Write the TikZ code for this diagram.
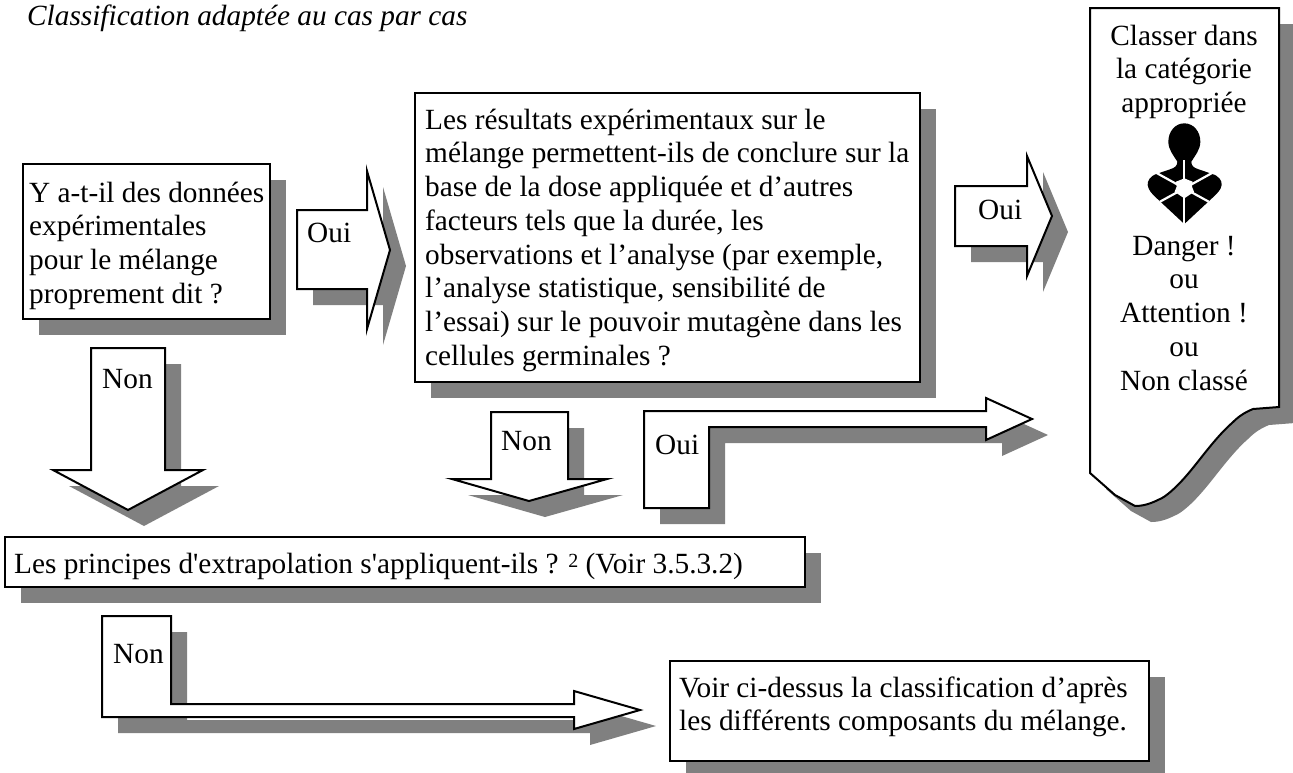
\documentclass[tikz,border=0pt]{standalone}
\usepackage{fontspec}
\usetikzlibrary{shadows}
\newfontfamily\frfont{Liberation Serif}
\definecolor{shadowc}{HTML}{808080}
\newcommand{\blockshape}[1]{%
  \fill[shadowc,shift={(16,16)}] #1;
  \filldraw[outl] #1;}
\newcommand{\topline}{\rule{0pt}{22pt}}
\tikzset{
  outl/.style={draw=black,fill=white,line width=2pt,miter limit=10},
  lbl/.style={anchor=base west,inner sep=0pt,font=\frfont\fontsize{29.3}{33.7}\selectfont},
  boxed/.style={draw=black,fill=white,line width=2pt,anchor=north west,inner sep=0pt,outer sep=0pt,
    general shadow={fill=shadowc,shadow xshift=16pt,shadow yshift=-16pt}},
  txt/.style={anchor=north west,inner sep=0pt,align=left,font=\frfont\fontsize{29.3}{33.7}\selectfont},
  ctxt/.style={txt,anchor=north,align=center},
  ray/.style={white,line width=2.2pt}
}
\begin{document}
\begin{tikzpicture}[x=1pt,y=-1pt]
\useasboundingbox (0,0) rectangle (1293,772);
\fill[white] (0,0) rectangle (1293,772);
\node[lbl,font=\frfont\itshape\fontsize{29.3}{33.7}\selectfont] (title) at (27,25) {Classification adaptée au cas par cas};
% box 1
\node[boxed,minimum width=247pt,minimum height=155pt] (b1) at (23,164) {};
\node[txt] (b1t) at (29,180) {\topline Y a-t-il des données\\expérimentales\\pour le mélange\\proprement dit ?};
% big box
\node[boxed,minimum width=505pt,minimum height=289pt] (b2) at (415,93) {};
\node[txt] (b2t) at (425,107) {\topline Les résultats expérimentaux sur le\\mélange permettent-ils de conclure sur la\\base de la dose appliquée et d’autres\\facteurs tels que la durée, les\\observations et l’analyse (par exemple,\\l’analyse statistique, sensibilité de\\l’essai) sur le pouvoir mutagène dans les\\cellules germinales ?};
% extrapolation
\node[boxed,minimum width=800pt,minimum height=50pt] (b3) at (5,537) {};
\node[lbl] (b3t) at (14,573) {Les principes d'extrapolation s'appliquent-ils ? \raisebox{6pt}{\fontsize{20}{20}\selectfont 2} (Voir 3.5.3.2)};
% last
\node[boxed,minimum width=479pt,minimum height=100pt] (b4) at (670,661) {};
\node[txt] (b4t) at (679,675) {\topline Voir ci-dessus la classification d’après\\les différents composants du mélange.};
% oui 1
\blockshape{(297,210) -- (367,210) -- (367,171) -- (390,250) -- (367,329) -- (367,289) -- (297,289) -- cycle}
\node[lbl] (oui1) at (307,242) {Oui};
% oui 3
\blockshape{(955,186) -- (1027,186) -- (1027,156) -- (1052,216) -- (1027,276) -- (1027,246) -- (955,246) -- cycle}
\node[lbl] (oui3) at (978,219) {Oui};
% non big
\blockshape{(91,348) -- (165,348) -- (165,470) -- (203,470) -- (128,510) -- (53,470) -- (91,470) -- cycle}
\node[lbl] (non1) at (102,388) {Non};
% non small
\blockshape{(491,412) -- (568,412) -- (568,479) -- (607,479) -- (529,501) -- (452,479) -- (491,479) -- cycle}
\node[lbl] (non2) at (501,450) {Non};
% oui 2
\blockshape{(644,411) -- (986,411) -- (986,398) -- (1032,419) -- (986,440) -- (986,427) -- (709,427) -- (709,508) -- (644,508) -- cycle}
\node[lbl] (oui2) at (655,454) {Oui};
% non 3
\blockshape{(102,616) -- (171,616) -- (171,704) -- (574,704) -- (574,691) -- (640,710) -- (574,729) -- (574,717) -- (102,717) -- cycle}
\node[lbl] (non3) at (113,663) {Non};
% right pentagon
\blockshape{(1090,8) -- (1279,8) -- (1279,407) -- (1253,409) .. controls (1243,413) and (1237,418) .. (1232,423) .. controls (1215,438) and (1200,460) .. (1187,475) .. controls (1175,489) and (1165,497) .. (1160,499) .. controls (1150,504) and (1143,506) .. (1135,506) -- (1115,495) -- (1090,473) -- cycle}
\node[ctxt] (cl) at (1184,23) {\topline Classer dans\\la catégorie\\appropriée};
\node[ctxt] (dg) at (1184,233) {\topline Danger !\\ou\\Attention !\\ou\\Non classé};
% pictogram
\begin{scope}[shift={(1070,0)},x=1pt/3,y=-1pt/3]
\fill[black] (343,370) .. controls (315,370) and (295,395) .. (295,425)
  .. controls (295,450) and (312,468) .. (322,485) .. controls (322,498) and (315,503) .. (300,508)
  -- (262,521) .. controls (240,528) and (232,542) .. (233,555) .. controls (235,570) and (245,580) .. (255,590)
  -- (343,672) -- (431,590) .. controls (441,580) and (453,570) .. (455,555)
  .. controls (456,542) and (448,528) .. (424,521) -- (386,508) .. controls (371,503) and (364,498) .. (364,485)
  .. controls (374,468) and (391,450) .. (391,425) .. controls (391,395) and (371,370) .. (343,370) -- cycle;
\fill[white] (343,535) -- (355,540) -- (368,545) -- (366,560) -- (372,575) -- (358,585) -- (343,595) -- (328,585) -- (314,575) -- (320,560) -- (318,545) -- (331,540) -- cycle;
\draw[ray] (343,480) -- (343,672);
\draw[ray] (343,565) -- (258,518);
\draw[ray] (343,565) -- (428,518);
\draw[ray] (343,565) -- (270,605);
\draw[ray] (343,565) -- (416,605);
\end{scope}
\end{tikzpicture}
\end{document}
